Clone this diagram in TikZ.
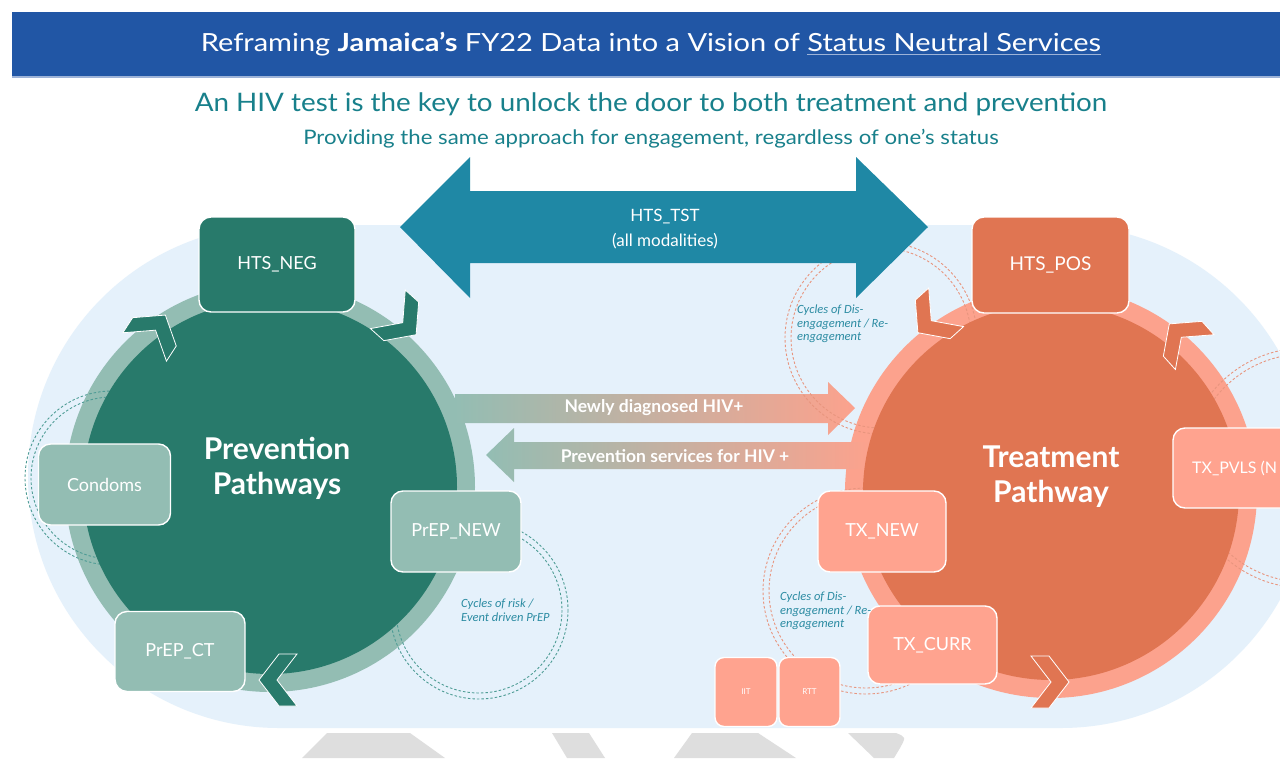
\documentclass[tikz,border=0pt]{standalone}
\usepackage{fontspec}
\setmainfont{Lato}
\newfontfamily\cyclefont{Carlito}
\usetikzlibrary{shapes.geometric}

\definecolor{titleblue}{HTML}{2156A5}
\definecolor{titleedge}{HTML}{9DB3D8}
\definecolor{headteal}{HTML}{18808B}
\definecolor{bgblue}{HTML}{E5F1FB}
\definecolor{arrowteal}{HTML}{1F88A5}
\definecolor{darkgreen}{HTML}{287A6B}
\definecolor{lightgreen}{HTML}{93BDB3}
\definecolor{darkorange}{HTML}{E07552}
\definecolor{salmon}{HTML}{FCA28D}
\definecolor{salmonbox}{HTML}{FFA38F}
\definecolor{dashgreen}{HTML}{4E9C95}
\definecolor{dashsalmon}{HTML}{E8957E}
\definecolor{cycletext}{HTML}{2B8BA2}
\definecolor{ghost}{HTML}{DEDEDE}

% underline drawn in a lighter tone than the text
\newcommand\lightul[1]{\setbox0\hbox{#1}\rlap{\color{titleedge}\rule[-4pt]{\wd0}{1.6pt}}\box0}
% widen a line of text without changing its height
\newcommand\widen[2]{\scalebox{#1}[1]{#2}}

\tikzset{
  boxbase/.style={draw=white, line width=1.4pt, rounded corners=12pt, text=white,
    inner sep=0pt, font=\fontsize{18}{20}\selectfont},
  greenbox/.style={boxbase, fill=lightgreen},
  greendark/.style={boxbase, fill=darkgreen},
  orangebox/.style={boxbase, fill=salmonbox},
  orangedark/.style={boxbase, fill=darkorange},
  cyc/.style={dash pattern=on 2.5pt off 2pt, line width=0.9pt},
  cyctext/.style={text=cycletext, align=left, anchor=north west, inner sep=0pt,
    font=\cyclefont\itshape\fontsize{12.5}{13.5}\selectfont},
  arrowlabel/.style={text=white, font=\bfseries\fontsize{17.5}{20}\selectfont},
  pathlabel/.style={text=white, align=center, font=\bfseries\fontsize{30}{35}\selectfont},
  chev/.pic={\filldraw[pic actions] (19,0) -- (-1,-26) -- (-19,-26) -- (1,0) -- (-19,26) -- (-1,26) -- cycle;},
  chevgreen/.style={fill=darkgreen, draw=white, line width=0.8pt},
  chevorange/.style={fill=darkorange, draw=white, line width=0.8pt}
}

\begin{document}
\begin{tikzpicture}[x=1pt,y=-1pt]
\useasboundingbox (0,0) rectangle (1280,758);
\clip (0,0) rectangle (1280,758);
\fill[white] (0,0) rectangle (1280,758);

% title bar
\fill[titleblue] (12,12) rectangle (1280,76);
\fill[titleedge] (12,76) rectangle (1280,78);
\node[text=white, font=\fontsize{25}{30}\selectfont] (title) at (651,44)
  {\widen{1.16}{Reframing \textbf{Jamaica’s} FY22 Data into a Vision of \lightul{Status Neutral Services}}};

% headline and sub-headline
\node[text=headteal, font=\fontsize{25.5}{30}\selectfont] (headline) at (651,104)
  {\widen{1.09}{An HIV test is the key to unlock the door to both treatment and prevention}};
\node[text=headteal, font=\fontsize{20}{24}\selectfont] (subline) at (651,139)
  {\widen{1.11}{Providing the same approach for engagement, regardless of one’s status}};

% light capsule behind both pathways
\fill[bgblue, rounded corners=251pt] (28,225) rectangle (1312,728);

% grey shapes along the bottom edge
\fill[ghost] (302,758) -- (327,733) -- (410,733) -- (445,758) -- cycle;
\fill[ghost] (552,733) -- (589,733) -- (605,758) -- (567,758) -- cycle;
\fill[ghost] (692,733) -- (758,733) -- (796,758) -- (674,758) -- cycle;
\fill[ghost] (848,733) -- (896,733) .. controls (906,737) .. (900,748) -- (894,758) -- (874,758) -- cycle;

% outer rings of the two pathways
\fill[lightgreen] (270,487) circle[radius=205];
\fill[salmon] (1051,492) circle[radius=206];

% arrows between the pathways
\shade[left color=lightgreen, right color=salmon]
  (455,394) -- (828,394) -- (828,382) -- (855,408) -- (828,435) -- (828,423) -- (455,423) -- cycle;
\shade[left color=lightgreen, right color=salmon]
  (870,442) -- (514,442) -- (514,428) -- (486,455) -- (514,482) -- (514,469) -- (870,469) -- cycle;

% dashed cycles
\draw[cyc, dashgreen] (112,478) circle[radius=87] (112,478) circle[radius=81];
\draw[cyc, dashgreen] (479,610) circle[radius=89] (479,610) circle[radius=83];
\draw[cyc, dashsalmon] (881,338) circle[radius=96] (881,338) circle[radius=90];
\draw[cyc, dashsalmon] (866,591) circle[radius=103] (866,591) circle[radius=97];
\draw[cyc, dashsalmon] (1305,468) circle[radius=120] (1305,468) circle[radius=114];

% testing double arrow
\fill[arrowteal] (400,227) -- (470,157) -- (470,191) -- (856,191) -- (856,157) -- (928,227)
  -- (856,298) -- (856,263) -- (470,263) -- (470,298) -- cycle;
\node[text=white, align=center, font=\fontsize{17}{25}\selectfont] (htstst) at (665,229)
  {HTS\_TST\\(all modalities)};

% inner discs
\fill[darkgreen] (270,487) circle[radius=187];
\fill[darkorange] (1051,492) circle[radius=188];

% direction chevrons
\pic[chevgreen, rotate=57] at (155,331) {chev};
\pic[chevgreen, rotate=-42] at (402,322) {chev};
\pic[chevgreen, rotate=180] at (278,680) {chev};
\pic[chevorange, rotate=-138] at (932,320) {chev};
\pic[chevorange, rotate=132] at (1182,338) {chev};
\pic[chevorange, rotate=0] at (1050,682) {chev};

% labels on the arrows
\node[arrowlabel] (newdx) at (654,408) {Newly diagnosed HIV+};
\node[arrowlabel] (prevsvc) at (675,456) {Prevention services for HIV +};

% pathway titles
\node[pathlabel] (prevpath) at (277,468) {Prevention\\Pathways};
\node[pathlabel] (treatpath) at (1051,477) {Treatment\\Pathway};

% indicator boxes, prevention side
\node[greendark, minimum width=156pt, minimum height=95pt] (htsneg) at (277,264.5) {HTS\_NEG};
\node[greenbox, minimum width=132pt, minimum height=81pt] (condoms) at (104.5,484.5) {Condoms};
\node[greenbox, minimum width=130pt, minimum height=81pt] (prepnew) at (456,531.5) {PrEP\_NEW};
\node[greenbox, minimum width=130pt, minimum height=80pt] (prepct) at (180,651.5) {PrEP\_CT};

% indicator boxes, treatment side
\node[orangedark, minimum width=157pt, minimum height=96pt, font=\fontsize{19}{21}\selectfont] (htspos) at (1050.5,265) {HTS\_POS};
\node[orangebox, minimum width=128pt, minimum height=81pt] (txnew) at (882,531.5) {TX\_NEW};
\node[orangebox, minimum width=129pt, minimum height=78pt] (txcurr) at (932.5,645) {TX\_CURR};
\node[orangebox, minimum width=160pt, minimum height=80pt] (txpvls) at (1253,468) {};
\node[text=white, anchor=west, inner sep=0pt, font=\fontsize{16}{18}\selectfont] (txpvlstext) at (1192,468) {TX\_PVLS (N};
\node[orangebox, rounded corners=9pt, minimum width=62pt, minimum height=69pt,
  font=\fontsize{8}{9}\selectfont] (iit) at (746,692) {IIT};
\node[orangebox, rounded corners=9pt, minimum width=61pt, minimum height=69pt,
  font=\fontsize{8}{9}\selectfont] (rtt) at (809.5,692) {RTT};

% cycle notes
\node[cyctext] (riskcyc) at (461,599) {Cycles of risk /\\Event driven PrEP};
\node[cyctext] (topcyc) at (797,305) {Cycles of Dis-\\engagement / Re-\\engagement};
\node[cyctext] (lowcyc) at (780,592) {Cycles of Dis-\\engagement / Re-\\engagement};
\end{tikzpicture}
\end{document}
